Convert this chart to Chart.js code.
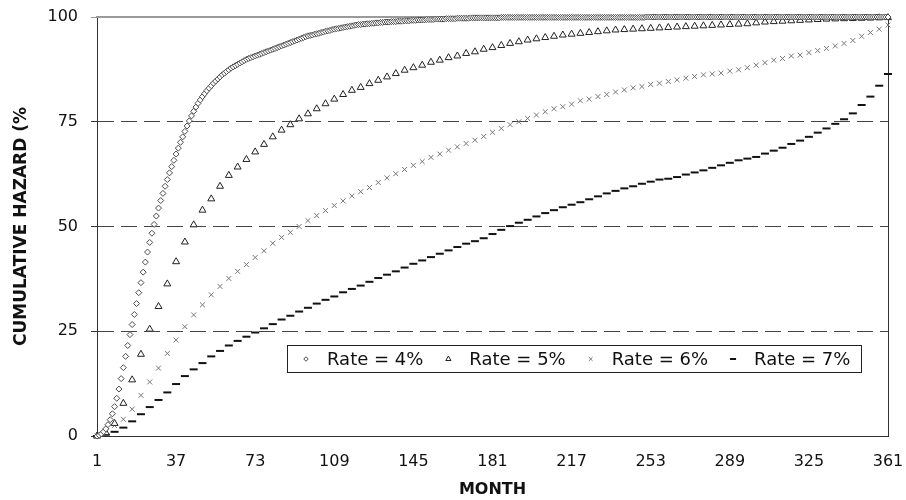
<!DOCTYPE html>
<html>
<head>
<meta charset="utf-8">
<title>Cumulative hazard by month</title>
<script src="https://cdn.jsdelivr.net/npm/chart.js@4.4.0/dist/chart.umd.min.js"></script>
<style>
    html, body { margin: 0; padding: 0; background: #fff; }
    #wrap { position: relative; width: 906px; height: 500px; }
</style>
</head>
<body>
<div id="wrap"><canvas id="hazard-chart"></canvas></div>
<script>
// Month axis: the 4% series is plotted every month, the others every 4th month
const monthsAll = Array.from({ length: 361 }, (_, i) => i + 1);
const monthsEvery4 = monthsAll.filter(m => (m - 1) % 4 === 0);

const xTicks = [1, 37, 73, 109, 145, 181, 217, 253, 289, 325, 361];
const yTicks = [0, 25, 50, 75, 100];

const seriesLabels = ['Rate = 4%', 'Rate = 5%', 'Rate = 6%', 'Rate = 7%'];

// Rate = 4% (months 1..361)
const rate4 = [
    0, 0.2, 0.5, 1, 1.7, 2.7, 3.9, 5.3, 7, 9,
    11.2, 13.7, 16.3, 19, 21.6, 24.2, 26.6, 29, 31.6, 34.2,
    36.6, 39.1, 41.5, 43.9, 46.2, 48.4, 50.5, 52.5, 54.4, 56.2,
    57.9, 59.6, 61.2, 62.8, 64.3, 65.8, 67.3, 68.7, 70.1, 71.4,
    72.7, 74, 75.2, 76.4, 77.5, 78.5, 79.4, 80.2, 81, 81.7,
    82.4, 83, 83.6, 84.2, 84.7, 85.2, 85.7, 86.2, 86.6, 87,
    87.4, 87.8, 88.1, 88.4, 88.7, 89, 89.3, 89.6, 89.9, 90.1,
    90.3, 90.5, 90.7, 90.9, 91.1, 91.3, 91.5, 91.7, 91.9, 92.1,
    92.3, 92.5, 92.7, 92.9, 93.1, 93.3, 93.5, 93.7, 93.9, 94.1,
    94.3, 94.5, 94.7, 94.9, 95.1, 95.3, 95.5, 95.6, 95.7, 95.9,
    96, 96.1, 96.3, 96.4, 96.6, 96.7, 96.8, 97, 97.1, 97.2,
    97.3, 97.4, 97.5, 97.6, 97.7, 97.8, 97.9, 98, 98.1, 98.2,
    98.2, 98.3, 98.3, 98.4, 98.4, 98.5, 98.5, 98.6, 98.6, 98.7,
    98.7, 98.8, 98.8, 98.8, 98.9, 98.9, 98.9, 99, 99, 99,
    99.1, 99.1, 99.1, 99.2, 99.2, 99.2, 99.3, 99.3, 99.3, 99.3,
    99.4, 99.4, 99.4, 99.4, 99.5, 99.5, 99.5, 99.5, 99.5, 99.6,
    99.6, 99.6, 99.6, 99.6, 99.7, 99.7, 99.7, 99.7, 99.7, 99.7,
    99.8, 99.8, 99.8, 99.8, 99.8, 99.8, 99.8, 99.8, 99.8, 99.8,
    99.8, 99.8, 99.8, 99.8, 99.9, 99.9, 99.9, 99.9, 99.9, 99.9,
    99.9, 99.9, 99.9, 99.9, 99.9, 99.9, 99.9, 99.9, 99.9, 99.9,
    // 201..250
    99.9, 99.9, 99.9, 99.9, 99.9, 99.9, 99.9, 99.9, 99.9, 99.9,
    99.9, 99.9, 99.9, 99.9, 99.9, 99.9, 99.9, 99.9, 99.9, 99.9,
    99.9, 99.9, 99.9, 99.9, 99.9, 99.9, 99.9, 99.9, 99.9, 99.9,
    99.9, 99.9, 99.9, 99.9, 99.9, 99.9, 99.9, 99.9, 99.9, 99.9,
    99.9, 99.9, 99.9, 99.9, 99.9, 99.9, 99.9, 99.9, 99.9, 99.9,
    // 251..361
    100, 100, 100, 100, 100, 100, 100, 100, 100, 100,
    100, 100, 100, 100, 100, 100, 100, 100, 100, 100,
    100, 100, 100, 100, 100, 100, 100, 100, 100, 100,
    100, 100, 100, 100, 100, 100, 100, 100, 100, 100,
    100, 100, 100, 100, 100, 100, 100, 100, 100, 100,
    100, 100, 100, 100, 100, 100, 100, 100, 100, 100,
    100, 100, 100, 100, 100, 100, 100, 100, 100, 100,
    100, 100, 100, 100, 100, 100, 100, 100, 100, 100,
    100, 100, 100, 100, 100, 100, 100, 100, 100, 100,
    100, 100, 100, 100, 100, 100, 100, 100, 100, 100,
    100, 100, 100, 100, 100, 100, 100, 100, 100, 100,
    100
];

// Rate = 5% (months 1, 5, 9, ... 361)
const rate5 = [
    0, 0.8, 3, 7.8, 13.4, 19.5, 25.5, 30.9, 36.3, 41.6,
    46.3, 50.4, 53.9, 56.6, 59.6, 62.2, 64.2, 66, 67.8, 69.6,
    71.4, 73, 74.3, 75.7, 76.9, 78.1, 79.3, 80.4, 81.5, 82.5,
    83.2, 84.1, 84.9, 85.7, 86.5, 87.3, 87.9, 88.5, 89.2, 89.7,
    90.3, 90.7, 91.3, 91.7, 92.3, 92.7, 93.2, 93.7, 94.1, 94.5,
    94.8, 95.1, 95.4, 95.7, 95.9, 96.1, 96.3, 96.5, 96.7, 96.9,
    97, 97.1, 97.2, 97.3, 97.4, 97.5, 97.6, 97.7, 97.8, 97.9,
    98, 98.1, 98.2, 98.3, 98.4, 98.6, 98.8, 98.9, 99, 99.1,
    99.2, 99.3, 99.4, 99.5, 99.55, 99.6, 99.65, 99.7, 99.75, 99.8,
    99.85
];

// Rate = 6%
const rate6 = [
    0, 1.1, 2.5, 4, 6.4, 9.7, 12.9, 16.2, 19.7, 22.9,
    26.1, 28.9, 31.3, 33.7, 35.7, 37.6, 39.3, 40.9, 42.6, 44.2,
    46, 47.4, 48.6, 50, 51.4, 52.6, 53.8, 55, 56.1, 57.3,
    58.3, 59.3, 60.5, 61.6, 62.6, 63.6, 64.6, 65.5, 66.5, 67.3,
    68.2, 69, 69.8, 70.6, 71.5, 72.5, 73.4, 74.3, 75, 75.8,
    76.6, 77.4, 78.1, 78.6, 79.2, 80, 80.4, 81, 81.5, 82.1,
    82.6, 83.1, 83.4, 83.9, 84.2, 84.6, 85, 85.4, 85.8, 86.2,
    86.4, 86.6, 87.1, 87.4, 87.9, 88.5, 89.1, 89.7, 90.1, 90.7,
    90.9, 91.5, 92, 92.5, 93.1, 93.7, 94.4, 95.4, 96.3, 97.1,
    98.1
];

// Rate = 7%
const rate7 = [
    0, 0.3, 1, 2, 3.5, 5.2, 6.9, 8.6, 10.4, 12.4,
    14.3, 15.9, 17.4, 19, 20.3, 21.6, 22.7, 23.7, 24.7, 25.7,
    26.7, 27.8, 28.7, 29.7, 30.6, 31.6, 32.5, 33.3, 34.3, 35.1,
    35.9, 36.8, 37.7, 38.5, 39.3, 40.2, 41.1, 41.9, 42.7, 43.5,
    44.3, 45.1, 45.9, 46.5, 47.2, 48.2, 49.2, 50.1, 50.9, 51.6,
    52.4, 53.2, 53.9, 54.6, 55.2, 55.8, 56.5, 57.2, 57.9, 58.5,
    59.1, 59.6, 60.2, 60.7, 61.2, 61.4, 61.8, 62.4, 62.9, 63.4,
    64, 64.6, 65.2, 65.8, 66.2, 66.6, 67.4, 68.1, 68.8, 69.7,
    70.5, 71.4, 72.4, 73.4, 74.5, 75.6, 77, 79, 81, 83.6,
    86.4
];

const toPoints = (months, values) => values.map((v, i) => ({ x: months[i], y: v }));

// Legend drawn as a boxed row inside the plot area (lower right)
const insideLegend = {
    id: 'insideLegend',
    afterDraw(chart, args, opts) {
        const { ctx, chartArea } = chart;
        const datasets = chart.data.datasets;
        ctx.save();
        ctx.font = opts.font;
        const widths = datasets.map(ds => ctx.measureText(ds.label).width);
        let boxW = opts.padLeft + opts.padRight + opts.itemGap * (widths.length - 1);
        widths.forEach(w => { boxW += opts.markerSpace + w; });
        const left = Math.round(chartArea.right - opts.offsetRight - boxW);
        const top = Math.round(chartArea.bottom - opts.offsetBottom);

        ctx.fillStyle = '#fff';
        ctx.fillRect(left, top, boxW, opts.height);
        ctx.strokeStyle = '#222';
        ctx.lineWidth = 1;
        ctx.strokeRect(left + 0.5, top + 0.5, Math.round(boxW), opts.height);

        const cy = top + opts.height / 2 + 0.5;
        let x = left + opts.padLeft;
        datasets.forEach((ds, i) => {
            ctx.strokeStyle = ds.borderColor;
            ctx.fillStyle = ds.backgroundColor;
            ctx.lineWidth = ds.pointBorderWidth;
            Chart.helpers.drawPoint(ctx, {
                pointStyle: ds.pointStyle,
                radius: ds.pointRadius * 0.75,
                borderWidth: ds.pointBorderWidth,
                rotation: 0
            }, x, cy);
            ctx.fillStyle = '#111';
            ctx.textAlign = 'left';
            ctx.textBaseline = 'middle';
            ctx.fillText(ds.label, x + opts.markerSpace, cy + 1);
            x += opts.markerSpace + widths[i] + opts.itemGap;
        });
        ctx.restore();
    }
};

document.addEventListener('DOMContentLoaded', function () {
    Chart.defaults.font.family = '"DejaVu Sans", sans-serif';
    Chart.defaults.color = '#111';

    const ctx = document.getElementById('hazard-chart').getContext('2d');
    new Chart(ctx, {
        type: 'scatter',
        data: {
            datasets: [
                {
                    label: seriesLabels[0],
                    data: toPoints(monthsAll, rate4),
                    pointStyle: 'rectRot',
                    pointRadius: 3,
                    pointBorderWidth: 1,
                    borderColor: '#4a4a4a',
                    backgroundColor: '#fff',
                    clip: false
                },
                {
                    label: seriesLabels[1],
                    data: toPoints(monthsEvery4, rate5),
                    pointStyle: 'triangle',
                    pointRadius: 4,
                    pointBorderWidth: 1,
                    borderColor: '#222',
                    backgroundColor: '#fff',
                    clip: false
                },
                {
                    label: seriesLabels[2],
                    data: toPoints(monthsEvery4, rate6),
                    pointStyle: 'crossRot',
                    pointRadius: 3.5,
                    pointBorderWidth: 1,
                    borderColor: '#777',
                    backgroundColor: '#777',
                    clip: false
                },
                {
                    label: seriesLabels[3],
                    data: toPoints(monthsEvery4, rate7),
                    pointStyle: 'line',
                    pointRadius: 4,
                    pointBorderWidth: 2,
                    borderColor: '#111',
                    backgroundColor: '#111',
                    clip: false
                }
            ]
        },
        options: {
            responsive: true,
            maintainAspectRatio: false,
            animation: false,
            layout: { padding: { left: 8, right: 18, top: 17, bottom: 0 } },
            plugins: {
                legend: { display: false },
                tooltip: { enabled: false },
                insideLegend: {
                    font: '18px "DejaVu Sans", sans-serif',
                    height: 27,
                    padLeft: 19,
                    padRight: 11,
                    markerSpace: 21,
                    itemGap: 25,
                    offsetRight: 27,
                    offsetBottom: 91
                }
            },
            scales: {
                x: {
                    type: 'linear',
                    min: 1,
                    max: 361,
                    afterBuildTicks: (axis) => { axis.ticks = xTicks.map(value => ({ value })); },
                    afterFit: (axis) => {
                        axis.height = 64;
                        axis.paddingLeft = 0;
                        axis.paddingRight = 0;
                    },
                    ticks: { autoSkip: false, maxRotation: 0, padding: 16, font: { size: 16 } },
                    grid: { drawOnChartArea: false, drawTicks: false },
                    border: { color: '#333', width: 1 },
                    title: {
                        display: true,
                        text: 'MONTH',
                        font: { size: 16, weight: 'bold' },
                        padding: { top: 0, bottom: 1 }
                    }
                },
                y: {
                    min: 0,
                    max: 100,
                    afterBuildTicks: (axis) => { axis.ticks = yTicks.map(value => ({ value })); },
                    afterFit: (axis) => {
                        axis.width = 89;
                        axis.paddingTop = 0;
                        axis.paddingBottom = 0;
                    },
                    ticks: { padding: 13, font: { size: 16 } },
                    grid: {
                        color: (c) => (c.tick && c.tick.value > 0 && c.tick.value < 100) ? '#444' : 'rgba(0,0,0,0)',
                        tickColor: (c) => (c.tick && c.tick.value === 100) ? '#999' : '#333',
                        tickLength: 6,
                        tickBorderDash: []
                    },
                    border: { color: '#333', width: 1, dash: [16, 7] },
                    title: {
                        display: true,
                        text: 'CUMULATIVE HAZARD (%',
                        font: { size: 17, weight: 'bold' },
                        padding: { top: 3, bottom: 0 }
                    }
                },
                xTop: {
                    type: 'linear',
                    position: 'top',
                    min: 1,
                    max: 361,
                    ticks: { display: false },
                    grid: { display: false, drawTicks: false },
                    border: { color: '#9a9a9a', width: 2 }
                },
                yRight: {
                    type: 'linear',
                    position: 'right',
                    min: 0,
                    max: 100,
                    ticks: { display: false },
                    grid: { display: false, drawTicks: false },
                    border: { color: '#333', width: 1 }
                }
            }
        },
        plugins: [insideLegend]
    });
});
</script>
</body>
</html>
